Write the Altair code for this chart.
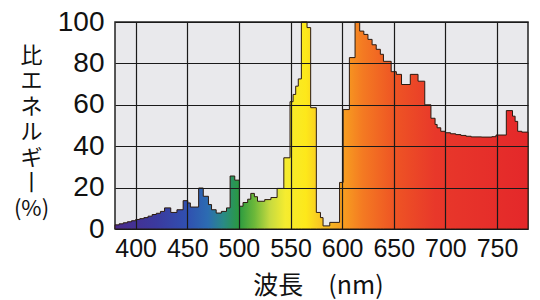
import altair as alt
import pandas as pd

wavelength = [380, 384, 388, 392, 396, 400, 404, 408, 412, 416, 420, 424, 428, 434, 440,
              446, 450.5, 453, 461, 465.5, 470.5, 473.5, 478, 483, 488, 491.5, 496, 500.5,
              504, 508.5, 511.5, 515, 518, 525, 531, 537, 543.5, 549.5, 552.5, 555, 557.5,
              560.5, 566, 569.5, 575, 579, 581.5, 588, 597.5, 601, 607, 612.5, 617, 621,
              625, 629, 633, 637, 640, 647.5, 652.5, 657.5, 666, 673.5, 680, 686, 690, 692,
              695.5, 700, 705, 710, 715, 720, 725, 735, 745, 749, 759, 765, 767.5, 770, 774, 780]
energy = [2.0, 2.5, 3.0, 3.5, 4.0, 4.6, 5.0, 5.5, 6.2, 7.0, 7.6, 8.5, 10.2, 8.0, 9.3,
          13.7, 12.6, 10.6, 19.8, 15.8, 11.8, 9.3, 7.7, 8.5, 10.2, 25.6, 23.6, 11.0,
          12.8, 14.4, 17.2, 15.6, 13.4, 14.2, 15.2, 19.6, 34.4, 61.5, 65.0, 69.0, 72.5,
          100.0, 97.3, 58.6, 8.0, 5.5, 1.5, 3.2, 22.5, 57.7, 82.8, 100.0, 95.6, 94.0,
          91.6, 89.0, 86.8, 84.4, 81.0, 76.0, 74.7, 69.8, 74.7, 71.4, 60.0, 53.5, 50.5, 48.9,
          47.2, 46.5, 46.0, 45.6, 45.2, 44.8, 44.5, 44.4, 44.6, 45.4, 57.2, 54.5, 52.0, 47.2, 46.8, 46.8]

x_ticks = [400, 450, 500, 550, 600, 650, 700, 750]
y_ticks = [0, 20, 40, 60, 80, 100]

df = pd.DataFrame({"wl": wavelength, "e": energy})

spectrum = [
    (380, "#4a2a8c"), (420, "#3b3a9e"), (450, "#3050b0"), (470, "#2c6cb2"),
    (485, "#2a8a86"), (500, "#2a9a40"), (515, "#6cb83a"), (530, "#c6da40"),
    (545, "#f5ec30"), (565, "#fde81a"), (580, "#f8c424"), (600, "#f7a020"),
    (620, "#f47a22"), (650, "#ee5524"), (690, "#e8382a"), (780, "#e4282a"),
]
stops = [alt.GradientStop(offset=(w - 380) / 400, color=c) for w, c in spectrum]

area = alt.Chart(df).mark_area(
    interpolate="step-after",
    color=alt.Gradient(gradient="linear", stops=stops, x1=0, x2=1, y1=0, y2=0),
    stroke="#2b1a10",
    strokeWidth=1,
).encode(
    x=alt.X("wl:Q", scale=alt.Scale(domain=[380, 780], nice=False, zero=False),
            axis=alt.Axis(values=x_ticks, title="波長　(nm)", grid=True, ticks=False,
                          domain=False, labelFont="Liberation Sans", labelFontSize=25,
                          labelPadding=7, labelColor="#111",
                          titleFont="Noto Sans CJK JP", titleFontSize=25,
                          titleFontWeight="normal", titleColor="#111",
                          titleBaseline="alphabetic", titleX=203, titleY=64,
                          gridColor="#1a1a1a", gridWidth=1.2, zindex=1)),
    y=alt.Y("e:Q", scale=alt.Scale(domain=[0, 100], nice=False),
            axis=alt.Axis(values=y_ticks, grid=True, ticks=False, domain=False,
                          title=["比", "エ", "ネ", "ル", "ギ", "丨", "(%)"],
                          titleAngle=0, titleAlign="center", titleBaseline="top",
                          titleX=-84, titleY=23, titleLineHeight=25.5,
                          titleFont="Noto Sans CJK JP", titleFontSize=22,
                          titleFontWeight="normal", titleColor="#111",
                          labelFont="Liberation Sans", labelFontSize=28,
                          labelPadding=11, labelColor="#111",
                          gridColor="#1a1a1a", gridWidth=1.2, zindex=1)),
)

chart = area.properties(
    width=413, height=207,
    autosize=alt.AutoSizeParams(type="none"),
    padding={"left": 115, "top": 22, "right": 12, "bottom": 71},
    background="white",
).configure_view(fill="#e9e9ec", stroke="#222", strokeWidth=1.5)

chart.save("out.html", embed_options={"renderer": "svg", "actions": False})
